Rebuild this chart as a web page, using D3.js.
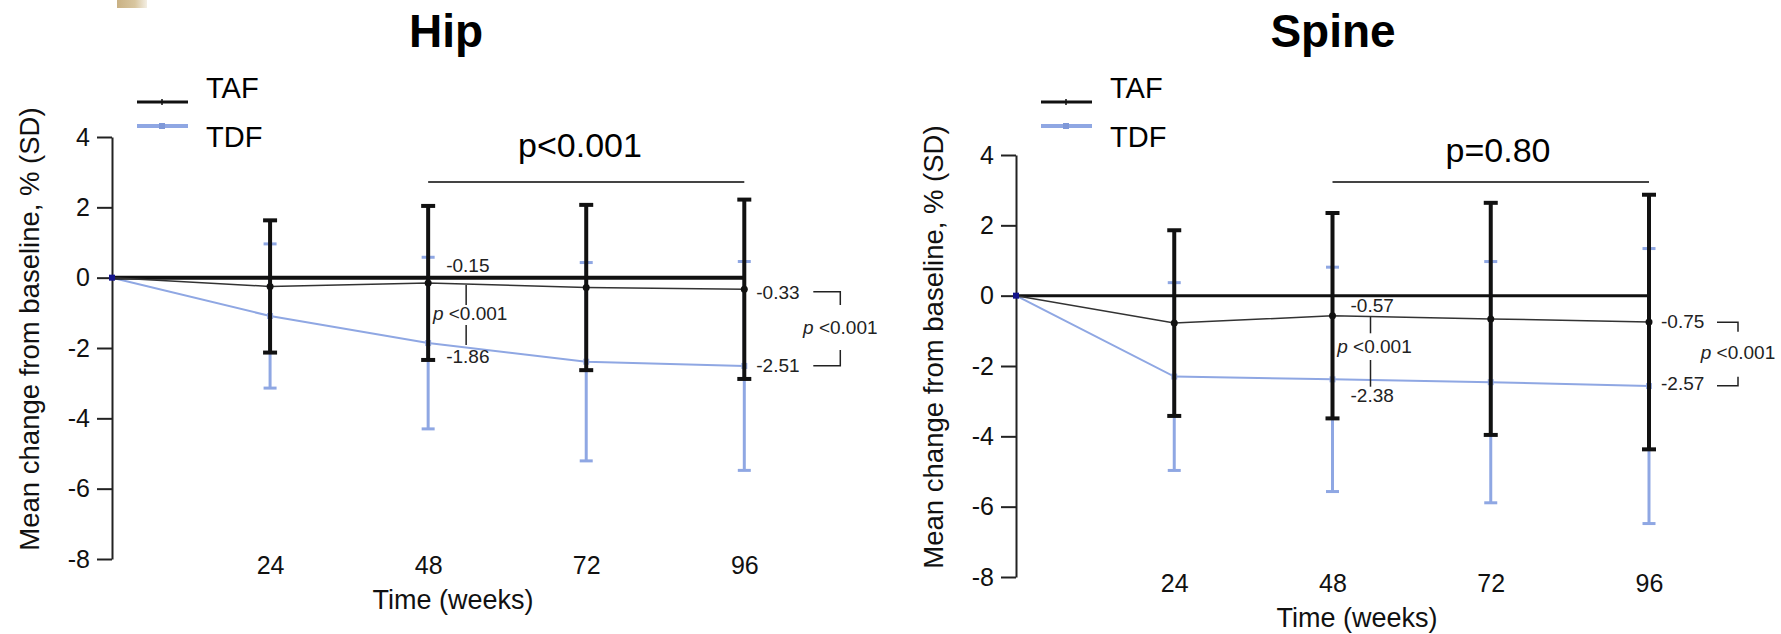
<!DOCTYPE html>
<html>
<head>
<meta charset="utf-8">
<script src="https://cdn.jsdelivr.net/npm/d3@7"></script>
<style>
  html, body { margin: 0; padding: 0; background: #fff; }
  svg { display: block; }
  text { font-family: "Liberation Sans", Arial, Helvetica, sans-serif; }
</style>
</head>
<body>
<svg id="chart" width="1781" height="634"></svg>
<script>
// ---------------- data ----------------
const weeks = [0, 24, 48, 72, 96];
const xTickLabels = [24, 48, 72, 96];
const yTicks = [4, 2, 0, -2, -4, -6, -8];
const seriesNames = ["TAF", "TDF"];

const hipTAF   = [0, -0.25, -0.15, -0.28, -0.33];
const hipTAFsd = [0, 1.88, 2.19, 2.35, 2.55];
const hipTDF   = [0, -1.09, -1.86, -2.39, -2.51];
const hipTDFsd = [0, 2.05, 2.44, 2.82, 2.97];

const spineTAF   = [0, -0.78, -0.57, -0.66, -0.75];
const spineTAFsd = [0, 2.64, 2.92, 3.30, 3.62];
const spineTDF   = [0, -2.30, -2.38, -2.46, -2.57];
const spineTDFsd = [0, 2.67, 3.19, 3.43, 3.91];

const panelTitles = ["Hip", "Spine"];
const overallP = ["p<0.001", "p=0.80"];
const week48Labels = [["-0.15", "-1.86"], ["-0.57", "-2.38"]];
const week96Labels = [["-0.33", "-2.51"], ["-0.75", "-2.57"]];
const pairP = "<0.001";

// ---------------- drawing ----------------
const svg = d3.select("#chart");
const BLACK = "#111";
const BLUE = "#8fa7e3";
const FONT = '"Liberation Sans", Arial, Helvetica, sans-serif';

// decorative image remnant top-left
const defs = svg.append("defs");
const grad = defs.append("linearGradient").attr("id", "tan").attr("x1", "0").attr("x2", "1");
grad.append("stop").attr("offset", "0").attr("stop-color", "#c9b184");
grad.append("stop").attr("offset", "0.6").attr("stop-color", "#d8c6a0");
grad.append("stop").attr("offset", "1").attr("stop-color", "#f4efe4");
svg.append("rect").attr("x", 117).attr("y", 0).attr("width", 30).attr("height", 8)
  .attr("fill", "url(#tan)");

const panels = [
  {
    title: panelTitles[0], titleX: 446, x0: 112, x1: 744.3, yTop: 137, yBot: 559,
    taf: hipTAF, tafSd: hipTAFsd, tdf: hipTDF, tdfSd: hipTDFsd,
    zeroW: 4, pText: overallP[0], pX: 580, pY: 157, brY: 182,
    l48: week48Labels[0], l96: week96Labels[0],
    off48: [-11, 20], off96: [10, 6], mid48: [285, 305, 325, 345, 320],
    br96: [291.7, 305, 350, 365.7, 334], bx: [69, 27]
  },
  {
    title: panelTitles[1], titleX: 1333, x0: 1016, x1: 1649, yTop: 155, yBot: 577,
    taf: spineTAF, tafSd: spineTAFsd, tdf: spineTDF, tdfSd: spineTDFsd,
    zeroW: 3, pText: overallP[1], pX: 1498, pY: 162, brY: 182,
    l48: week48Labels[1], l96: week96Labels[1],
    off48: [-4, 23], off96: [6, 4], mid48: [316.7, 333.3, 360, 386.7, 352.7],
    br96: [322.3, 331.7, 376.7, 385.7, 359.3], bx: [68, 21]
  }
];

panels.forEach(p => {
  const x = d3.scaleLinear().domain([0, 96]).range([p.x0, p.x1]);
  const y = d3.scaleLinear().domain([-8, 4]).range([p.yBot, p.yTop]);
  const g = svg.append("g");

  // title
  g.append("text").attr("x", p.titleX).attr("y", 47).attr("text-anchor", "middle")
    .attr("font-size", 46).attr("font-weight", "bold").attr("fill", "#000").text(p.title);

  // legend
  const lx = p.x0 + 25;
  [[seriesNames[0], BLACK, 102, 98, 3], [seriesNames[1], BLUE, 126, 147, 4]].forEach(([name, col, ly, ty, w], i) => {
    g.append("line").attr("x1", lx).attr("x2", lx + 51).attr("y1", ly).attr("y2", ly)
      .attr("stroke", col).attr("stroke-width", w);
    if (i === 0) {
      g.append("line").attr("x1", lx + 25).attr("x2", lx + 25).attr("y1", ly - 3).attr("y2", ly + 3)
        .attr("stroke", col).attr("stroke-width", 1.5);
    } else {
      g.append("rect").attr("x", lx + 22).attr("y", ly - 3).attr("width", 6).attr("height", 6).attr("fill", "#7f98d8");
    }
    g.append("text").attr("x", p.x0 + 94).attr("y", ty).attr("font-size", 29).attr("fill", "#000").text(name);
  });

  // y axis
  const ya = g.append("g").attr("transform", `translate(${p.x0},0)`)
    .call(d3.axisLeft(y).tickValues(yTicks).tickSize(15).tickSizeOuter(0).tickPadding(7).tickFormat(d => String(d)));
  ya.select(".domain").attr("stroke", "#222").attr("stroke-width", 2);
  ya.selectAll(".tick line").attr("stroke", "#222").attr("stroke-width", 2);
  ya.selectAll(".tick text").attr("font-size", 25).attr("font-family", FONT).attr("fill", "#111");

  // x axis (labels only)
  const xa = g.append("g").attr("transform", `translate(0,${p.yBot})`)
    .call(d3.axisBottom(x).tickValues(xTickLabels).tickSize(0).tickPadding(-3).tickFormat(d => String(d)));
  xa.select(".domain").remove();
  xa.selectAll(".tick text").attr("font-size", 25).attr("font-family", FONT).attr("fill", "#111");

  // axis titles
  g.append("text").attr("x", p.x0 + 341).attr("y", p.yBot + 50).attr("text-anchor", "middle")
    .attr("font-size", 27).attr("fill", "#111").text("Time (weeks)");
  g.append("text").attr("transform", `translate(${p.x0 - 73},${p.yTop + 192}) rotate(-90)`)
    .attr("text-anchor", "middle").attr("font-size", 27.5).attr("fill", "#111")
    .text("Mean change from baseline, % (SD)");

  // overall p bracket
  g.append("line").attr("x1", x(48)).attr("x2", x(96)).attr("y1", p.brY).attr("y2", p.brY)
    .attr("stroke", "#444").attr("stroke-width", 2);
  g.append("text").attr("x", p.pX).attr("y", p.pY).attr("text-anchor", "middle")
    .attr("font-size", 34).attr("fill", "#000").text(p.pText);

  const drawErr = (means, sds, col, w, capW) => {
    weeks.forEach((wk, i) => {
      if (sds[i] === 0) return;
      const hi = y(means[i] + sds[i]), lo = y(means[i] - sds[i]), cx = x(wk);
      g.append("line").attr("x1", cx).attr("x2", cx).attr("y1", hi).attr("y2", lo)
        .attr("stroke", col).attr("stroke-width", w);
      [hi, lo].forEach(yy => g.append("line").attr("x1", cx - capW / 2).attr("x2", cx + capW / 2)
        .attr("y1", yy).attr("y2", yy).attr("stroke", col).attr("stroke-width", w));
    });
  };

  const line = d3.line().x((d, i) => x(weeks[i])).y(d => y(d));

  // TDF (under TAF)
  drawErr(p.tdf, p.tdfSd, BLUE, 3, 13);
  g.append("path").datum(p.tdf).attr("d", line).attr("fill", "none")
    .attr("stroke", BLUE).attr("stroke-width", 2);
  weeks.forEach((wk, i) => {
    if (i === 0) return;
    g.append("rect").attr("x", x(wk) - 3).attr("y", y(p.tdf[i]) - 3).attr("width", 6).attr("height", 6)
      .attr("fill", "#9db1e6");
  });

  // zero reference line
  g.append("line").attr("x1", x(0)).attr("x2", x(96)).attr("y1", y(0)).attr("y2", y(0))
    .attr("stroke", BLACK).attr("stroke-width", p.zeroW);

  // TAF
  drawErr(p.taf, p.tafSd, BLACK, 4, 14);
  g.append("path").datum(p.taf).attr("d", line).attr("fill", "none")
    .attr("stroke", "#333").attr("stroke-width", 1.5);
  weeks.forEach((wk, i) => {
    if (i === 0) return;
    g.append("circle").attr("cx", x(wk)).attr("cy", y(p.taf[i])).attr("r", 3.5).attr("fill", BLACK);
  });

  // baseline marker
  g.append("rect").attr("x", x(0) - 3).attr("y", y(0) - 3).attr("width", 6).attr("height", 6).attr("fill", "#14148c");

  // week 48 annotation
  const ANN = "#222";
  const ax48 = x(48) + 18;
  g.append("text").attr("x", ax48).attr("y", y(p.taf[2]) + p.off48[0]).attr("font-size", 19).attr("fill", ANN).text(p.l48[0]);
  g.append("text").attr("x", ax48).attr("y", y(p.tdf[2]) + p.off48[1]).attr("font-size", 19).attr("fill", ANN).text(p.l48[1]);
  const vx = x(48) + 38;
  g.append("line").attr("x1", vx).attr("x2", vx).attr("y1", p.mid48[0]).attr("y2", p.mid48[1]).attr("stroke", ANN).attr("stroke-width", 1.5);
  g.append("line").attr("x1", vx).attr("x2", vx).attr("y1", p.mid48[2]).attr("y2", p.mid48[3]).attr("stroke", ANN).attr("stroke-width", 1.5);
  const t48 = g.append("text").attr("x", vx + 4).attr("y", p.mid48[4]).attr("text-anchor", "middle")
    .attr("font-size", 19).attr("fill", ANN);
  t48.append("tspan").attr("font-style", "italic").text("p");
  t48.append("tspan").text(" " + pairP);

  // week 96 annotation
  const ax96 = x(96) + 12;
  g.append("text").attr("x", ax96).attr("y", y(p.taf[4]) + p.off96[0]).attr("font-size", 19).attr("fill", ANN).text(p.l96[0]);
  g.append("text").attr("x", ax96).attr("y", y(p.tdf[4]) + p.off96[1]).attr("font-size", 19).attr("fill", ANN).text(p.l96[1]);
  const bx1 = x(96) + p.bx[0], bx2 = bx1 + p.bx[1];
  g.append("path").attr("d", `M${bx1},${p.br96[0]}H${bx2}V${p.br96[1]}`).attr("fill", "none").attr("stroke", ANN).attr("stroke-width", 1.5);
  g.append("path").attr("d", `M${bx2},${p.br96[2]}V${p.br96[3]}H${bx1}`).attr("fill", "none").attr("stroke", ANN).attr("stroke-width", 1.5);
  const t96 = g.append("text").attr("x", bx2).attr("y", p.br96[4]).attr("text-anchor", "middle")
    .attr("font-size", 19).attr("fill", ANN);
  t96.append("tspan").attr("font-style", "italic").text("p");
  t96.append("tspan").text(" " + pairP);
});
</script>
</body>
</html>
